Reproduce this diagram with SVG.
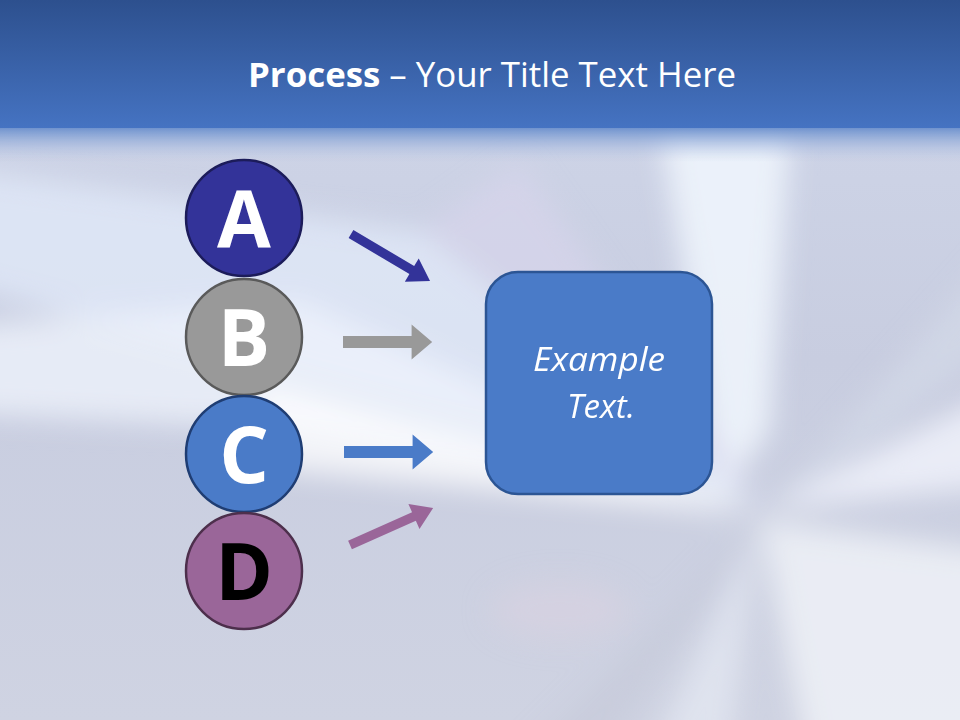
<svg xmlns="http://www.w3.org/2000/svg" width="960" height="720" viewBox="0 0 960 720">
<defs>
<linearGradient id="band" x1="0" y1="0" x2="0" y2="1">
<stop offset="0" stop-color="#2d508e"/>
<stop offset="1" stop-color="#4573c2"/>
</linearGradient>
<linearGradient id="bandFade" x1="0" y1="0" x2="0" y2="1">
<stop offset="0" stop-color="#5a84c8" stop-opacity="0.9"/>
<stop offset="1" stop-color="#b8c6e6" stop-opacity="0"/>
</linearGradient>
<linearGradient id="bg" x1="0" y1="0" x2="0" y2="1">
<stop offset="0" stop-color="#d0d7ea"/>
<stop offset="0.5" stop-color="#c8cde0"/>
<stop offset="1" stop-color="#cfd3e2"/>
</linearGradient>
<filter id="blur" x="-50%" y="-50%" width="200%" height="200%">
<feGaussianBlur stdDeviation="14"/>
</filter>
<path id="arr" d="M0,-5.5 H70 V-16 L91,0 L70,16 V5.5 H0 Z"/>
</defs>
<style>
.lbl{font-family:"Open Sans","DejaVu Sans",sans-serif;font-weight:bold;font-size:78px;text-anchor:middle}
.title{font-family:"Open Sans","DejaVu Sans",sans-serif;font-size:34px;fill:#ffffff;text-anchor:middle}
.box{font-family:"Open Sans","DejaVu Sans",sans-serif;font-style:italic;font-size:32px;fill:#ffffff;text-anchor:middle}
.circ{stroke-width:2.5}
</style>

<!-- background -->
<rect x="0" y="0" width="960" height="720" fill="url(#bg)"/>
<g filter="url(#blur)">
<polygon points="-100,160 420,230 760,500 -100,270" fill="#e0e8f7" opacity="0.8"/>
<polygon points="-100,330 300,300 760,510 300,430 -100,410" fill="#eef2fb" opacity="0.8"/>
<polygon points="250,380 760,515 280,470" fill="#ffffff" opacity="0.75"/>
<polygon points="660,130 790,130 770,430 720,500" fill="#eef4fc" opacity="0.9"/>
<polygon points="760,510 1060,360 1060,480" fill="#edf0f8" opacity="0.9"/>
<polygon points="760,520 1060,560 1060,820 820,820" fill="#eef1f7" opacity="0.85"/>
<polygon points="760,520 620,820 720,820" fill="#e6e9f3" opacity="0.7"/>
<polygon points="420,230 520,160 760,500" fill="#d9d6ec" opacity="0.6"/>
<polygon points="760,520 560,820 460,820" fill="#c4c8d8" opacity="0.5"/>
<polygon points="760,520 1060,180 1060,300" fill="#d6dcea" opacity="0.6"/>
<ellipse cx="560" cy="610" rx="70" ry="30" fill="#dcd2e2" opacity="0.5"/>
</g>
<rect x="0" y="126" width="960" height="36" fill="url(#bandFade)"/>
<rect x="0" y="0" width="960" height="128" fill="url(#band)"/>

<!-- title -->
<text class="title" x="492" y="87" textLength="488" lengthAdjust="spacingAndGlyphs"><tspan font-weight="bold">Process</tspan> – Your Title Text Here</text>

<!-- connectors -->
<g id="connectors">
<use href="#arr" fill="#333399" transform="translate(351,234) rotate(30.7) scale(1.01,0.85)"/>
<use href="#arr" fill="#999999" transform="translate(343,342) scale(0.98,1.1)"/>
<use href="#arr" fill="#4a7bc8" transform="translate(344,452) scale(0.98,1.1)"/>
<use href="#arr" fill="#9a6699" transform="translate(350,545) rotate(-24) scale(1,0.85)"/>
</g>

<!-- nodes -->
<g id="nodeA">
<circle class="circ" cx="244" cy="218" r="58" fill="#333399" stroke="#1c1c5a"/>
<text class="lbl" x="244" y="247" fill="#ffffff">A</text>
</g>
<g id="nodeB">
<circle class="circ" cx="244" cy="337" r="58" fill="#999999" stroke="#5a5a5a"/>
<text class="lbl" x="244" y="366" fill="#ffffff">B</text>
</g>
<g id="nodeC">
<circle class="circ" cx="244" cy="454" r="58" fill="#4a7bc8" stroke="#1f3d73"/>
<text class="lbl" x="244" y="483" fill="#ffffff">C</text>
</g>
<g id="nodeD">
<circle class="circ" cx="244" cy="571" r="58" fill="#9a6699" stroke="#4d2f4c"/>
<text class="lbl" x="244" y="600" fill="#000000">D</text>
</g>
<g id="box">
<rect x="486" y="272" width="226" height="222" rx="32" ry="32" fill="#4a7bc8" stroke="#2c5594" stroke-width="2.5"/>
<text class="box" x="599" y="371" textLength="132" lengthAdjust="spacingAndGlyphs">Example</text>
<text class="box" x="601" y="418" textLength="68" lengthAdjust="spacingAndGlyphs">Text.</text>
</g>
</svg>
